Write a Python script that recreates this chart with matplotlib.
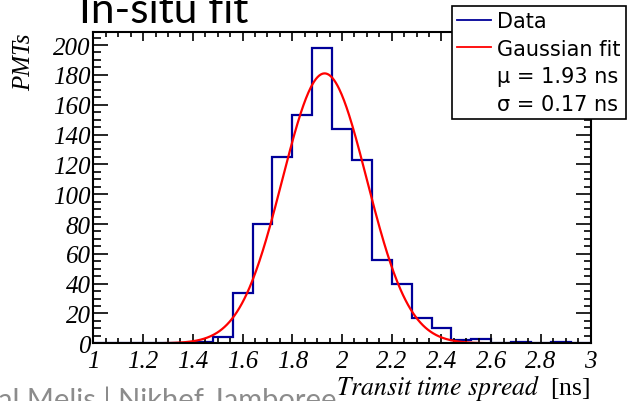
import numpy as np
import matplotlib
matplotlib.use("Agg")
import matplotlib.pyplot as plt
from matplotlib.ticker import MultipleLocator, FormatStrFormatter
from matplotlib.lines import Line2D

# --------------------------------------------------
# Data
# --------------------------------------------------
bin_edges = np.round(np.arange(1.0, 3.0001, 0.08), 2)
counts = [0, 0, 0, 0, 0, 1, 4, 34, 80, 125, 153, 198, 144, 123,
          56, 40, 17, 10, 2, 3, 0, 1, 0, 1, 0]

fit_mu = 1.93
fit_sigma = 0.17
fit_amp = 181.0

serif = "Liberation Serif"
sans = "DejaVu Sans"

fig = plt.figure(figsize=(6.31, 4.02), dpi=100)
ax = fig.add_axes([0.148, 0.1435, 0.788, 0.7735])

# histogram outline
ax.stairs(counts, bin_edges, color="#000099", lw=1.6, baseline=0)

# gaussian fit curve
xs = np.linspace(1.0, 3.0, 600)
ys = fit_amp * np.exp(-0.5 * ((xs - fit_mu) / fit_sigma) ** 2)
ax.plot(xs, ys, color="#ff0000", lw=1.6)

ax.set_xlim(1.0, 3.0)
ax.set_ylim(0, 208.5)

ax.xaxis.set_major_locator(MultipleLocator(0.2))
ax.xaxis.set_minor_locator(MultipleLocator(0.05))
ax.yaxis.set_major_locator(MultipleLocator(20))
ax.yaxis.set_minor_locator(MultipleLocator(5))
ax.xaxis.set_major_formatter(FormatStrFormatter("%g"))
ax.yaxis.set_major_formatter(FormatStrFormatter("%g"))

ax.tick_params(which="both", direction="in", top=True, right=True, width=1.2)
ax.tick_params(axis="x", which="major", length=6.5, pad=5)
ax.tick_params(axis="x", which="minor", length=3.3)
ax.tick_params(axis="y", which="major", length=10.8, pad=2)
ax.tick_params(axis="y", which="minor", length=5.4)
for lab in ax.get_xticklabels() + ax.get_yticklabels():
    lab.set_family(serif)
    lab.set_style("italic")
    lab.set_fontsize(18)
for sp in ax.spines.values():
    sp.set_linewidth(1.5)

ax.set_ylabel("PMTs", family=serif, style="italic", fontsize=18, loc="top",
              labelpad=13)
ax.set_xlabel(r"$\it{Transit\ time\ spread}$  [ns]", family=serif,
              fontsize=18.5, loc="right", labelpad=0)
ax.xaxis.label.set_math_fontfamily("stix")

# legend box
handles = [
    Line2D([], [], color="#000099", lw=1.3),
    Line2D([], [], color="#ff0000", lw=1.3),
    Line2D([], [], color="none"),
    Line2D([], [], color="none"),
]
labels = ["Data", "Gaussian fit",
          "\u03bc = %.2f ns" % fit_mu, "\u03c3 = %.2f ns" % fit_sigma]
leg = fig.legend(handles, labels, loc="upper left",
                 bbox_to_anchor=(452 / 631, 1 - 7 / 402),
                 prop={"family": sans, "size": 15}, frameon=True,
                 fancybox=False, edgecolor="black", framealpha=1,
                 borderpad=0.25, labelspacing=0.36, handlelength=1.6,
                 handletextpad=0.3, borderaxespad=0)
leg.get_frame().set_linewidth(1.2)

# slide title and footer (cut at the image edge)
fig.text(79 / 631, 1 - 23 / 402, "In-situ fit", family="Lato", fontsize=30.5,
         color="black", va="baseline")
fig.text(-2 / 631, 1 - 409 / 402, "al Melis | Nikhef Jamboree", family="Lato",
         fontsize=21, color="#8c8c8c", va="baseline")

fig.savefig("out.png", dpi=100)
